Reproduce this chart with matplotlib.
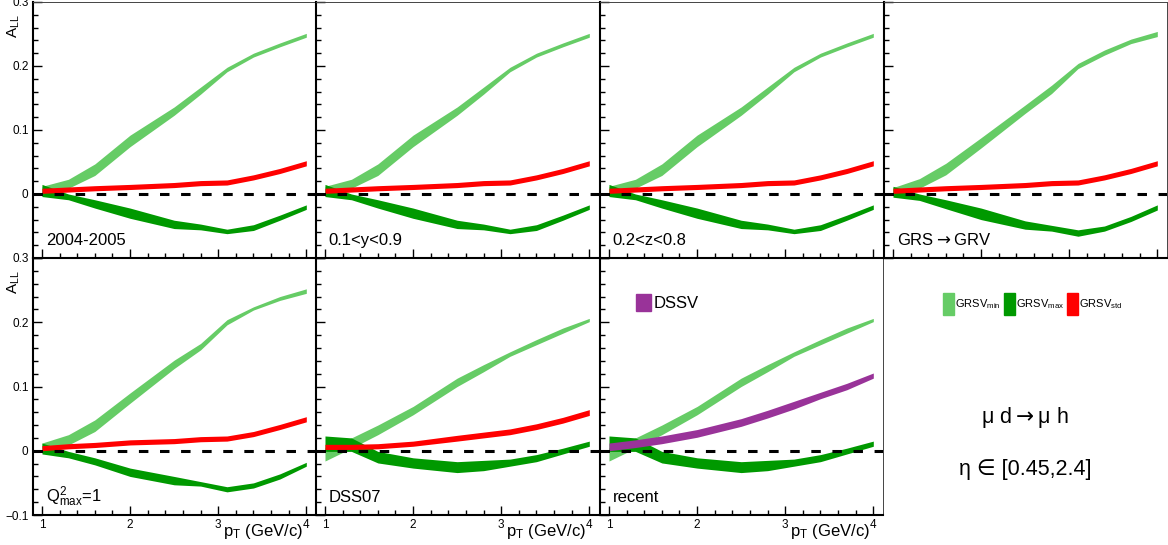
import matplotlib
matplotlib.use('Agg')
import matplotlib.pyplot as plt
from matplotlib.patches import Patch
from matplotlib.ticker import MultipleLocator

plt.rcParams['font.family'] = ['Liberation Sans', 'DejaVu Sans']
plt.rcParams['mathtext.fontset'] = 'custom'
plt.rcParams['mathtext.rm'] = 'Liberation Sans'
plt.rcParams['mathtext.sf'] = 'DejaVu Sans'
plt.rcParams['mathtext.default'] = 'rm'

# pT points of the bands
pt = [1.0, 1.3, 1.6, 2.0, 2.5, 2.8, 3.1, 3.4, 3.7, 4.0]

# 2004-2005 (0.1<y<0.9 and 0.2<z<0.8 are the same by eye)
min_lo_std = [-0.003, 0.009, 0.029, 0.074, 0.123, 0.156, 0.191, 0.214, 0.230, 0.245]
min_hi_std = [0.012, 0.023, 0.047, 0.092, 0.136, 0.167, 0.198, 0.220, 0.236, 0.251]
max_lo_std = [-0.004, -0.009, -0.022, -0.038, -0.054, -0.056, -0.062, -0.057, -0.041, -0.024]
max_hi_std = [0.015, 0.000, -0.009, -0.022, -0.041, -0.047, -0.055, -0.048, -0.033, -0.017]
std_lo_std = [0.001, 0.003, 0.005, 0.007, 0.010, 0.013, 0.014, 0.022, 0.032, 0.044]
std_hi_std = [0.009, 0.011, 0.013, 0.015, 0.018, 0.021, 0.022, 0.030, 0.040, 0.052]

# GRS -> GRV
min_lo_grv = [0.002, 0.009, 0.030, 0.072, 0.126, 0.157, 0.196, 0.217, 0.235, 0.246]
min_hi_grv = [0.010, 0.024, 0.048, 0.088, 0.139, 0.170, 0.204, 0.225, 0.242, 0.254]
max_lo_grv = [-0.005, -0.010, -0.023, -0.040, -0.055, -0.058, -0.066, -0.058, -0.043, -0.025]
max_hi_grv = [0.012, 0.000, -0.009, -0.022, -0.042, -0.049, -0.056, -0.050, -0.035, -0.017]

# Q2max = 1
min_lo_q2 = [0.004, 0.009, 0.030, 0.074, 0.128, 0.157, 0.196, 0.219, 0.234, 0.245]
min_hi_q2 = [0.012, 0.025, 0.048, 0.090, 0.141, 0.167, 0.204, 0.224, 0.240, 0.252]
max_lo_q2 = [-0.005, -0.011, -0.022, -0.040, -0.053, -0.055, -0.064, -0.058, -0.044, -0.024]
max_hi_q2 = [0.012, -0.001, -0.011, -0.027, -0.040, -0.048, -0.056, -0.050, -0.036, -0.018]
std_lo_q2 = [0.000, 0.003, 0.005, 0.009, 0.011, 0.014, 0.015, 0.022, 0.033, 0.045]
std_hi_q2 = [0.008, 0.011, 0.013, 0.017, 0.019, 0.022, 0.023, 0.030, 0.041, 0.053]

# DSS07 / recent
min_lo_dss = [-0.016, 0.004, 0.025, 0.056, 0.100, 0.123, 0.147, 0.165, 0.183, 0.201]
min_hi_dss = [0.005, 0.020, 0.040, 0.069, 0.113, 0.134, 0.154, 0.173, 0.191, 0.206]
max_lo_dss = [-0.001, -0.001, -0.019, -0.027, -0.034, -0.031, -0.024, -0.017, -0.005, 0.007]
max_hi_dss = [0.023, 0.020, -0.001, -0.011, -0.017, -0.015, -0.013, -0.006, 0.004, 0.015]
std_lo_dss = [0.002, 0.002, 0.003, 0.007, 0.015, 0.020, 0.025, 0.033, 0.043, 0.055]
std_hi_dss = [0.010, 0.010, 0.011, 0.015, 0.024, 0.029, 0.034, 0.042, 0.052, 0.064]
dssv_lo = [0.000, 0.005, 0.011, 0.021, 0.038, 0.051, 0.065, 0.081, 0.095, 0.113]
dssv_hi = [0.012, 0.017, 0.023, 0.033, 0.050, 0.063, 0.077, 0.091, 0.105, 0.121]

C_MIN = '#66cc66'
C_MAX = '#009900'
C_STD = '#ff0000'
C_DSSV = '#993399'

# mathtext already puts space round the arrow
ARROW = r'$\mathsf{\rightarrow}$'

W, H = 1168, 545
fig = plt.figure(figsize=(W / 100, H / 100), dpi=100)


def add_panel(left, top, bottom, label, lo_min, hi_min, lo_max, hi_max,
              lo_3, hi_3, col3, ylabels, xlabels):
    ax = fig.add_axes([left / W, 1 - bottom / H, 283 / W, (bottom - top) / H])
    ax.fill_between(pt, lo_min, hi_min, color=C_MIN, lw=0)
    ax.fill_between(pt, lo_max, hi_max, color=C_MAX, lw=0)
    ax.fill_between(pt, lo_3, hi_3, color=col3, lw=0)
    ax.axhline(0, color='black', lw=2.2, ls=(0, (3.1, 3.8)))
    ax.set_xlim(0.898, 4.11)
    ax.set_ylim(-0.1, 0.3)

    ax.xaxis.set_major_locator(MultipleLocator(1))
    ax.xaxis.set_minor_locator(MultipleLocator(0.2))
    ax.set_yticks([-0.1, 0, 0.1, 0.2, 0.3])
    ax.yaxis.set_minor_locator(MultipleLocator(0.02))
    if xlabels:
        ax.set_xticks([1, 2, 3, 4], ['1', '2', '3', '4'])
    if ylabels:
        first = '\u22120.1' if xlabels else ''
        ax.set_yticklabels([first, '0', '0.1', '0.2', '0.3'])
    ax.tick_params(which='major', direction='in', length=6.5, width=1,
                   labelsize=8.5, pad=3.2, color='black',
                   labelleft=ylabels, labelbottom=xlabels)
    ax.tick_params(which='minor', direction='in', length=3.5, width=1)
    for s in ['left', 'bottom']:
        ax.spines[s].set_linewidth(1.5)
    for s in ['top', 'right']:
        ax.spines[s].set_linewidth(0.7)
        ax.spines[s].set_color('#444444')

    ax.text(0.045, 0.05, label, transform=ax.transAxes, fontsize=12,
            va='baseline', ha='left')
    return ax


lefts = [33, 316, 600, 884]

# bottom row first
add_panel(lefts[0], 258, 515, r'Q$^{2}_{max}$=1', min_lo_q2, min_hi_q2,
          max_lo_q2, max_hi_q2, std_lo_q2, std_hi_q2, C_STD, True, True)
add_panel(lefts[1], 258, 515, 'DSS07', min_lo_dss, min_hi_dss,
          max_lo_dss, max_hi_dss, std_lo_dss, std_hi_dss, C_STD, False, True)
ax7 = add_panel(lefts[2], 258, 515, 'recent', min_lo_dss, min_hi_dss,
                max_lo_dss, max_hi_dss, dssv_lo, dssv_hi, C_DSSV, False, True)
ax7.legend(handles=[Patch(color=C_DSSV)], labels=['DSSV'], loc='upper left',
           bbox_to_anchor=(0.128, 0.86), frameon=False, fontsize=12,
           handlelength=0.9, handleheight=1.15, handletextpad=0.15,
           borderpad=0, borderaxespad=0)

# top row
add_panel(lefts[0], 2, 258, '2004-2005', min_lo_std, min_hi_std,
          max_lo_std, max_hi_std, std_lo_std, std_hi_std, C_STD, True, False)
add_panel(lefts[1], 2, 258, '0.1<y<0.9', min_lo_std, min_hi_std,
          max_lo_std, max_hi_std, std_lo_std, std_hi_std, C_STD, False, False)
add_panel(lefts[2], 2, 258, '0.2<z<0.8', min_lo_std, min_hi_std,
          max_lo_std, max_hi_std, std_lo_std, std_hi_std, C_STD, False, False)
add_panel(lefts[3], 2, 258, 'GRS' + ARROW + 'GRV', min_lo_grv, min_hi_grv,
          max_lo_grv, max_hi_grv, std_lo_std, std_hi_std, C_STD, False, False)

# axis titles
for top in [2, 258]:
    fig.text(14 / W, 1 - (top + 12) / H, r'A$_{LL}$', rotation=90,
             ha='center', va='top', fontsize=11)
for left in lefts[:3]:
    fig.text((left + 270) / W, 1 - 536 / H, r'p$_{T}$ (GeV/c)',
             ha='right', va='baseline', fontsize=12)

# GRSV legend in the empty corner
handles = [Patch(color=C_MIN), Patch(color=C_MAX), Patch(color=C_STD)]
labels = [r'GRSV$_{min}$', r'GRSV$_{max}$', r'GRSV$_{std}$']
fig.legend(handles=handles, labels=labels, ncol=3, loc='upper left',
           bbox_to_anchor=(943 / W, 1 - 293 / H), frameon=False, fontsize=8,
           handlelength=1.0, handleheight=2.6, handletextpad=0.1,
           columnspacing=0.25, borderpad=0, borderaxespad=0)

fig.text(1025 / W, 1 - 417 / H, '\u03bc d' + ARROW + '\u03bc h',
         ha='center', va='center', fontsize=15.5)
fig.text(1025 / W, 1 - 470 / H, '\u03b7 \u2208 [0.45,2.4]', ha='center',
         va='center', fontsize=15.5)

fig.savefig('out.png', dpi=100)
